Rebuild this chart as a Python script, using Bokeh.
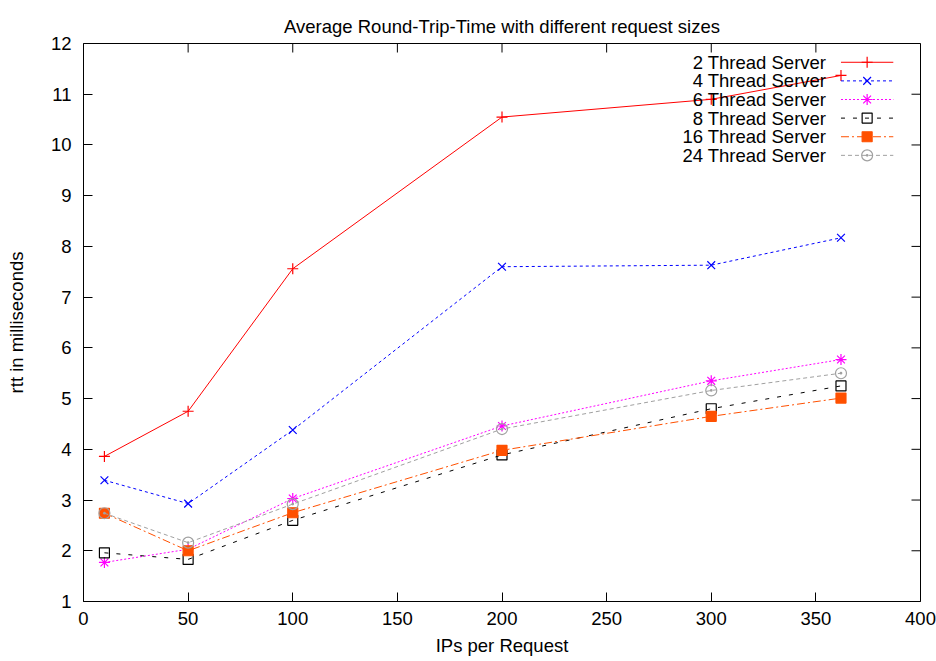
from bokeh.plotting import figure
from bokeh.models import Range1d, FixedTicker, Title
from bokeh.core.properties import value
from bokeh.embed import file_html
from bokeh.resources import INLINE

# ---- data ----
ips = [10, 50, 100, 200, 300, 362]
series_names = ["2 Thread Server", "4 Thread Server", "6 Thread Server",
                "8 Thread Server", "16 Thread Server", "24 Thread Server"]
rtt_2 = [3.86, 4.75, 7.56, 10.55, 10.90, 11.37]
rtt_4 = [3.39, 2.93, 4.38, 7.60, 7.63, 8.17]
rtt_6 = [1.77, 2.03, 3.03, 4.46, 5.35, 5.77]
rtt_8 = [1.96, 1.83, 2.60, 3.89, 4.80, 5.25]
rtt_16 = [2.74, 2.00, 2.75, 3.98, 4.65, 5.01]
rtt_24 = [2.74, 2.16, 2.92, 4.40, 5.16, 5.50]
x_ticks = [0, 50, 100, 150, 200, 250, 300, 350, 400]
y_ticks = [1, 2, 3, 4, 5, 6, 7, 8, 9, 10, 11, 12]

X_MIN, X_MAX = 0, 400
Y_MIN, Y_MAX = 1, 12

FONT = value("Liberation Sans")
FONT_NAME = "Liberation Sans"
FS = "18.5px"

styles = [
    dict(color="#ff0000", dash="solid", marker="cross", fill=True, size=11),
    dict(color="#0000ff", dash="3 3", marker="x", fill=True, size=11),
    dict(color="#ff00ff", dash="2 2", marker="asterisk", fill=True, size=11),
    dict(color="#000000", dash="4 8", marker="square", fill=False, size=10),
    dict(color="#ff5000", dash="8 3 2 3", marker="square", fill=True, size=10),
    dict(color="#a0a0a0", dash="4 3", marker="circle_dot", fill=False, size=11),
]
series = [rtt_2, rtt_4, rtt_6, rtt_8, rtt_16, rtt_24]

W, H = 936, 661
BL, BR, BT, BB = 83, 16, 43, 60

p = figure(width=W, height=H, output_backend="svg", toolbar_location=None,
           x_range=Range1d(X_MIN, X_MAX), y_range=Range1d(Y_MIN, Y_MAX),
           min_border_left=BL, min_border_right=BR, min_border_top=BT,
           min_border_bottom=BB, x_axis_label="IPs per Request",
           y_axis_label="rtt in milliseconds")
p.background_fill_color = "white"
p.border_fill_color = "white"
p.outline_line_color = "black"
p.outline_line_width = 1
p.grid.visible = False

p.title = Title(text="Average Round-Trip-Time with different request sizes",
                align="center", vertical_align="top", text_font=FONT_NAME,
                text_font_size=FS, text_font_style="normal",
                text_color="black", offset=-2, standoff=10)

TICK = 9
for ax in (p.xaxis[0], p.yaxis[0]):
    ax.axis_line_color = None
    ax.major_tick_in = TICK
    ax.major_tick_out = 0
    ax.minor_tick_line_color = None
    ax.major_tick_line_color = "black"
    ax.major_label_text_font = FONT_NAME
    ax.major_label_text_font_size = FS
    ax.major_label_text_color = "black"
    ax.axis_label_text_font = FONT_NAME
    ax.axis_label_text_font_size = FS
    ax.axis_label_text_font_style = "normal"
    ax.axis_label_text_color = "black"

p.xaxis.ticker = FixedTicker(ticks=x_ticks)
p.yaxis.ticker = FixedTicker(ticks=y_ticks)
p.xaxis.major_label_standoff = 10
p.xaxis.axis_label_standoff = 7
p.yaxis.major_label_standoff = 12
p.yaxis.axis_label_standoff = 21

# mirrored inward ticks on top and right (gnuplot style)
fw = W - BL - BR
fh = H - BT - BB
dy = TICK * (Y_MAX - Y_MIN) / fh
dx = TICK * (X_MAX - X_MIN) / fw
p.segment(x0=x_ticks, y0=[Y_MAX] * len(x_ticks), x1=x_ticks,
          y1=[Y_MAX - dy] * len(x_ticks), line_color="black", line_width=1)
p.segment(x0=[X_MAX] * len(y_ticks), y0=y_ticks, x1=[X_MAX - dx] * len(y_ticks),
          y1=y_ticks, line_color="black", line_width=1)

for vals, st in zip(series, styles):
    p.line(ips, vals, line_color=st["color"], line_width=1, line_dash=st["dash"])
    p.scatter(ips, vals, marker=st["marker"], size=st["size"],
              line_color=st["color"], line_width=1.2,
              fill_color=st["color"] if st["fill"] else None)

# ---- legend (gnuplot style: text right-aligned, sample to the right) ----
LEG_TEXT_X = 355
LEG_LINE_X0 = 362
LEG_LINE_X1 = 387
LEG_MARK_X = 374.5
LEG_Y0 = 11.63
LEG_DY = 0.367
for i, (name, st) in enumerate(zip(series_names, styles)):
    yy = LEG_Y0 - i * LEG_DY
    p.text(x=[LEG_TEXT_X], y=[yy], text=[name], text_align="right",
           text_baseline="middle", text_font=FONT, text_font_size=FS,
           text_color="black")
    p.line([LEG_LINE_X0, LEG_LINE_X1], [yy, yy], line_color=st["color"],
           line_width=1, line_dash=st["dash"])
    p.scatter([LEG_MARK_X], [yy], marker=st["marker"], size=st["size"],
              line_color=st["color"], line_width=1.2,
              fill_color=st["color"] if st["fill"] else None)

open("out.html", "w").write(file_html(p, INLINE))
